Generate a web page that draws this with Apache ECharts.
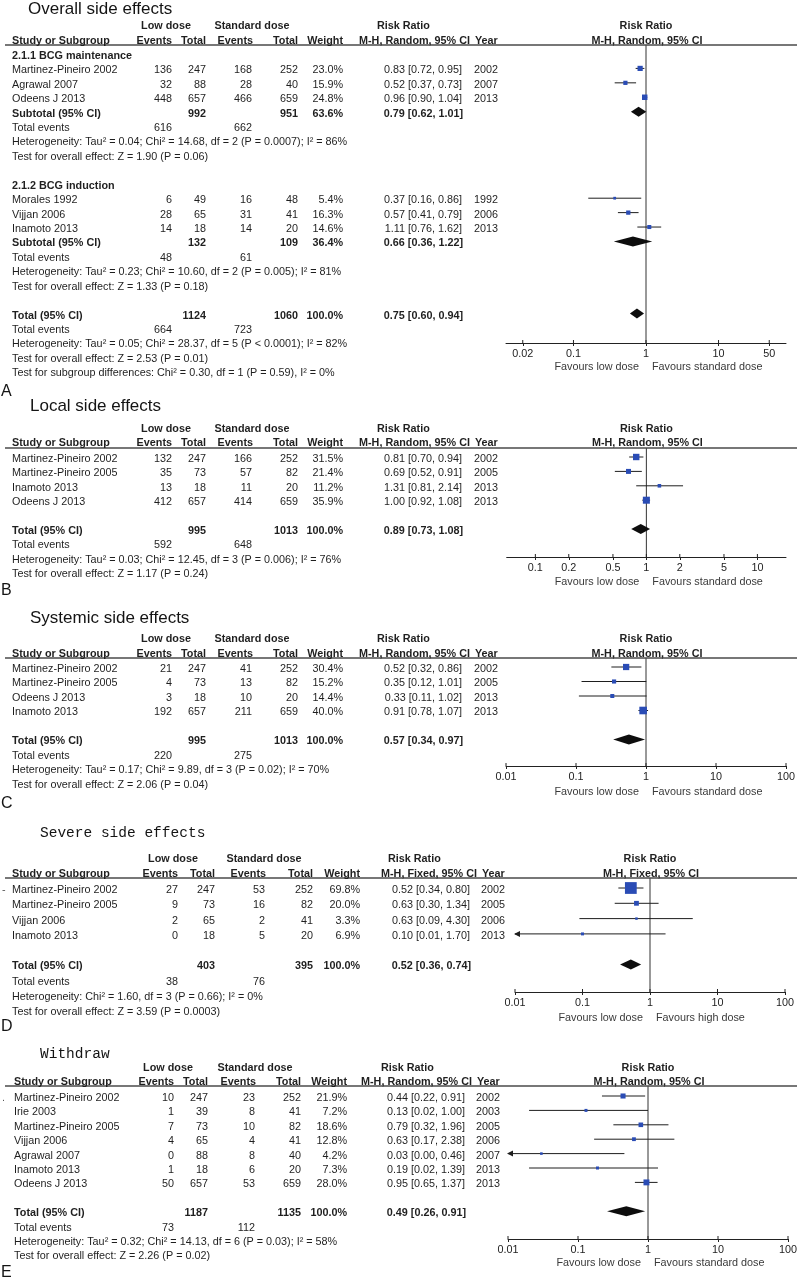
<!DOCTYPE html>
<html><head><meta charset="utf-8">
<script src="https://cdn.jsdelivr.net/npm/echarts@6/dist/echarts.min.js"></script>
<style>html,body{margin:0;padding:0;background:#fff}#c{width:800px;height:1279px}</style>
</head><body><div id="c"></div>
<script>
// ================= DATA =================
// study rows: [name, lowEvents, lowTotal, stdEvents, stdTotal, weight%, RR, lower, upper, year]
// pooled rows: [lowTotal, stdTotal, weight%, RR, lower, upper]
// ---- A: Overall side effects ----
const subgroupNamesA = ['2.1.1 BCG maintenance', '2.1.2 BCG induction'];
const studiesA1 = [
  ['Martinez-Pineiro 2002', 136, 247, 168, 252, 23.0, 0.83, 0.72, 0.95, 2002],
  ['Agrawal 2007', 32, 88, 28, 40, 15.9, 0.52, 0.37, 0.73, 2007],
  ['Odeens J 2013', 448, 657, 466, 659, 24.8, 0.96, 0.90, 1.04, 2013]
];
const pooledA1 = [992, 951, 63.6, 0.79, 0.62, 1.01];
const eventsA1 = [616, 662];
const statsA1 = ['Heterogeneity: Tau² = 0.04; Chi² = 14.68, df = 2 (P = 0.0007); I² = 86%',
                 'Test for overall effect: Z = 1.90 (P = 0.06)'];
const studiesA2 = [
  ['Morales 1992', 6, 49, 16, 48, 5.4, 0.37, 0.16, 0.86, 1992],
  ['Vijjan 2006', 28, 65, 31, 41, 16.3, 0.57, 0.41, 0.79, 2006],
  ['Inamoto 2013', 14, 18, 14, 20, 14.6, 1.11, 0.76, 1.62, 2013]
];
const pooledA2 = [132, 109, 36.4, 0.66, 0.36, 1.22];
const eventsA2 = [48, 61];
const statsA2 = ['Heterogeneity: Tau² = 0.23; Chi² = 10.60, df = 2 (P = 0.005); I² = 81%',
                 'Test for overall effect: Z = 1.33 (P = 0.18)'];
const pooledA = [1124, 1060, 100.0, 0.75, 0.60, 0.94];
const eventsA = [664, 723];
const statsA = ['Heterogeneity: Tau² = 0.05; Chi² = 28.37, df = 5 (P < 0.0001); I² = 82%',
                'Test for overall effect: Z = 2.53 (P = 0.01)',
                'Test for subgroup differences: Chi² = 0.30, df = 1 (P = 0.59), I² = 0%'];
const ticksA = [0.02, 0.1, 1, 10, 50];

// ---- B: Local side effects ----
const studiesB = [
  ['Martinez-Pineiro 2002', 132, 247, 166, 252, 31.5, 0.81, 0.70, 0.94, 2002],
  ['Martinez-Pineiro 2005', 35, 73, 57, 82, 21.4, 0.69, 0.52, 0.91, 2005],
  ['Inamoto 2013', 13, 18, 11, 20, 11.2, 1.31, 0.81, 2.14, 2013],
  ['Odeens J 2013', 412, 657, 414, 659, 35.9, 1.00, 0.92, 1.08, 2013]
];
const pooledB = [995, 1013, 100.0, 0.89, 0.73, 1.08];
const eventsB = [592, 648];
const statsB = ['Heterogeneity: Tau² = 0.03; Chi² = 12.45, df = 3 (P = 0.006); I² = 76%',
                'Test for overall effect: Z = 1.17 (P = 0.24)'];
const ticksB = [0.1, 0.2, 0.5, 1, 2, 5, 10];

// ---- C: Systemic side effects ----
const studiesC = [
  ['Martinez-Pineiro 2002', 21, 247, 41, 252, 30.4, 0.52, 0.32, 0.86, 2002],
  ['Martinez-Pineiro 2005', 4, 73, 13, 82, 15.2, 0.35, 0.12, 1.01, 2005],
  ['Odeens J 2013', 3, 18, 10, 20, 14.4, 0.33, 0.11, 1.02, 2013],
  ['Inamoto 2013', 192, 657, 211, 659, 40.0, 0.91, 0.78, 1.07, 2013]
];
const pooledC = [995, 1013, 100.0, 0.57, 0.34, 0.97];
const eventsC = [220, 275];
const statsC = ['Heterogeneity: Tau² = 0.17; Chi² = 9.89, df = 3 (P = 0.02); I² = 70%',
                'Test for overall effect: Z = 2.06 (P = 0.04)'];
const ticksC = [0.01, 0.1, 1, 10, 100];

// ---- D: Severe side effects ----
const studiesD = [
  ['Martinez-Pineiro 2002', 27, 247, 53, 252, 69.8, 0.52, 0.34, 0.80, 2002],
  ['Martinez-Pineiro 2005', 9, 73, 16, 82, 20.0, 0.63, 0.30, 1.34, 2005],
  ['Vijjan 2006', 2, 65, 2, 41, 3.3, 0.63, 0.09, 4.30, 2006],
  ['Inamoto 2013', 0, 18, 5, 20, 6.9, 0.10, 0.01, 1.70, 2013]
];
const pooledD = [403, 395, 100.0, 0.52, 0.36, 0.74];
const eventsD = [38, 76];
const statsD = ['Heterogeneity: Chi² = 1.60, df = 3 (P = 0.66); I² = 0%',
                'Test for overall effect: Z = 3.59 (P = 0.0003)'];
const ticksD = [0.01, 0.1, 1, 10, 100];

// ---- E: Withdraw ----
const studiesE = [
  ['Martinez-Pineiro 2002', 10, 247, 23, 252, 21.9, 0.44, 0.22, 0.91, 2002],
  ['Irie 2003', 1, 39, 8, 41, 7.2, 0.13, 0.02, 1.00, 2003],
  ['Martinez-Pineiro 2005', 7, 73, 10, 82, 18.6, 0.79, 0.32, 1.96, 2005],
  ['Vijjan 2006', 4, 65, 4, 41, 12.8, 0.63, 0.17, 2.38, 2006],
  ['Agrawal 2007', 0, 88, 8, 40, 4.2, 0.03, 0.00, 0.46, 2007],
  ['Inamoto 2013', 1, 18, 6, 20, 7.3, 0.19, 0.02, 1.39, 2013],
  ['Odeens J 2013', 50, 657, 53, 659, 28.0, 0.95, 0.65, 1.37, 2013]
];
const pooledE = [1187, 1135, 100.0, 0.49, 0.26, 0.91];
const eventsE = [73, 112];
const statsE = ['Heterogeneity: Tau² = 0.32; Chi² = 14.13, df = 6 (P = 0.03); I² = 58%',
                'Test for overall effect: Z = 2.26 (P = 0.02)'];
const ticksE = [0.01, 0.1, 1, 10, 100];

// ================= LAYOUT =================
const FONT = '"Liberation Sans", Arial, sans-serif';
const MONO = '"Liberation Mono", "DejaVu Sans Mono", monospace';
const FS = 10.8;
const TXT = '#1f1f1f';
const colsStd = {study:12, ev1:172, tot1:206, ev2:252, tot2:298, w:343, rr:462, year:474, low:166, std:252, rrHdr:377, mhR:470};

const panels = [
  { title:'Overall side effects', titleFont:'17px ' + FONT, titleX:28, titleY:9, letter:'A', letterY:392,
    hdr1Y:26, hdr2Y:41, lineY:45, y0:56, sp:14.42, axisY:343, axL:506, axR:786, xmin:0.01175, xmax:85.1, favY:367,
    cols: colsStd, method:'M-H, Random, 95% CI', favL:'Favours low dose', favR:'Favours standard dose', ticks: ticksA,
    subgroups:[
      {name:subgroupNamesA[0], studies:studiesA1, pooled:pooledA1, events:eventsA1, stats:statsA1},
      {name:subgroupNamesA[1], studies:studiesA2, pooled:pooledA2, events:eventsA2, stats:statsA2}],
    total:{pooled:pooledA, events:eventsA, stats:statsA} },
  { title:'Local side effects', titleFont:'17px ' + FONT, titleX:30, titleY:406, letter:'B', letterY:591,
    hdr1Y:429, hdr2Y:443, lineY:448, y0:459, sp:14.4, axisY:557, axL:506.7, axR:786, xmin:0.0552, xmax:18.1, favY:582,
    cols: colsStd, method:'M-H, Random, 95% CI', favL:'Favours low dose', favR:'Favours standard dose', ticks: ticksB,
    studies: studiesB, total:{pooled:pooledB, events:eventsB, stats:statsB} },
  { title:'Systemic side effects', titleFont:'17px ' + FONT, titleX:30, titleY:618, letter:'C', letterY:804,
    hdr1Y:639, hdr2Y:654, lineY:658, y0:669, sp:14.5, axisY:766, axL:506, axR:786, xmin:0.01, xmax:100, favY:792,
    cols: colsStd, method:'M-H, Random, 95% CI', favL:'Favours low dose', favR:'Favours standard dose', ticks: ticksC,
    studies: studiesC, total:{pooled:pooledC, events:eventsC, stats:statsC} },
  { title:'Severe side effects', titleFont:'14.5px ' + MONO, titleX:40, titleY:833, letter:'D', letterY:1027,
    hdr1Y:859, hdr2Y:874, lineY:878, y0:890, sp:15.3, axisY:992, axL:515, axR:785, xmin:0.01, xmax:100, favY:1018,
    cols:{study:12, ev1:178, tot1:215, ev2:265, tot2:313, w:360, rr:470, year:481, low:173, std:264, rrHdr:388, mhR:477},
    method:'M-H, Fixed, 95% CI', favL:'Favours low dose', favR:'Favours high dose', ticks: ticksD, mark:'-',
    studies: studiesD, total:{pooled:pooledD, events:eventsD, stats:statsD} },
  { title:'Withdraw', titleFont:'14.5px ' + MONO, titleX:40, titleY:1054, letter:'E', letterY:1273,
    hdr1Y:1068, hdr2Y:1082, lineY:1086, y0:1098, sp:14.4, axisY:1239, axL:508, axR:788, xmin:0.01, xmax:100, favY:1263,
    cols:{study:14, ev1:174, tot1:208, ev2:255, tot2:301, w:347, rr:465, year:476, low:168, std:255, rrHdr:381, mhR:472},
    method:'M-H, Random, 95% CI', favL:'Favours low dose', favR:'Favours standard dose', ticks: ticksE, mark:'.',
    studies: studiesE, total:{pooled:pooledE, events:eventsE, stats:statsE} }
];

// ================= BUILD =================
function buildRows(P) {
  const rows = []; let k = 0;
  if (P.subgroups) {
    P.subgroups.forEach(sg => {
      rows.push({k:k++, type:'head', text:sg.name});
      sg.studies.forEach(s => rows.push({k:k++, type:'study', s:s}));
      rows.push({k:k++, type:'pooled', label:'Subtotal (95% CI)', p:sg.pooled});
      rows.push({k:k++, type:'events', e:sg.events});
      sg.stats.forEach(t => rows.push({k:k++, type:'stat', text:t}));
      k++;
    });
  } else {
    P.studies.forEach(s => rows.push({k:k++, type:'study', s:s}));
    k++;
  }
  rows.push({k:k++, type:'pooled', label:'Total (95% CI)', p:P.total.pooled});
  rows.push({k:k++, type:'events', e:P.total.events});
  P.total.stats.forEach(t => rows.push({k:k++, type:'stat', text:t}));
  return rows;
}
const OFF = 2; // marks sit slightly above text centre line
function studyRender(P) {
  return function (params, api) {
    const est = api.value(0), lo = api.value(1), hi = api.value(2), row = api.value(3), w = api.value(4);
    const y = api.coord([1, row])[1];
    const loC = Math.max(lo, P.xmin), hiC = Math.min(hi, P.xmax);
    const xl = api.coord([loC, row])[0], xh = api.coord([hiC, row])[0], xe = api.coord([est, row])[0];
    const ch = [{type:'line', shape:{x1:xl, y1:y, x2:xh, y2:y}, style:{stroke:'#1e1e1e', lineWidth:1}}];
    if (lo <= P.xmin) ch.push({type:'polygon', shape:{points:[[xl - 1, y], [xl + 5, y - 3], [xl + 5, y + 3]]}, style:{fill:'#1e1e1e'}});
    if (hi >= P.xmax) ch.push({type:'polygon', shape:{points:[[xh + 1, y], [xh - 5, y - 3], [xh - 5, y + 3]]}, style:{fill:'#1e1e1e'}});
    const s = 2 + 0.14 * w;
    ch.push({type:'rect', shape:{x:xe - s / 2, y:y - s / 2, width:s, height:s}, style:{fill:'#2a4cb5'}});
    return {type:'group', children:ch};
  };
}
function diamondRender(params, api) {
  const est = api.value(0), lo = api.value(1), hi = api.value(2), row = api.value(3);
  const y = api.coord([1, row])[1];
  const xl = api.coord([lo, row])[0], xh = api.coord([hi, row])[0], xe = api.coord([est, row])[0];
  return {type:'polygon', shape:{points:[[xl, y], [xe, y - 5], [xh, y], [xe, y + 5]]}, style:{fill:'#0d0d0d'}};
}
// upper half of the crossing tick marks (the lower half is the axis' own tick)
function tickUpRender(P) {
  return function (params, api) {
    const p = api.coord([api.value(0), P.yMax]);
    return {type:'line', shape:{x1:p[0], y1:p[1] - 3, x2:p[0], y2:p[1]}, style:{stroke:'#222', lineWidth:1}};
  };
}
function fmtVal(v) { return String(parseFloat(Number(v).toPrecision(6))); }

const grids = [], xAxes = [], yAxes = [], series = [];
const panelRows = [];
panels.forEach((P, i) => {
  const rows = buildRows(P); panelRows.push(rows);
  const base = P.y0 - OFF;
  const yMin = (P.lineY - base) / P.sp, yMax = (P.axisY - base) / P.sp;
  P.yMin = yMin; P.yMax = yMax;
  grids.push({left:P.axL, top:P.lineY, width:P.axR - P.axL, height:P.axisY - P.lineY, containLabel:false, outerBoundsMode:'none'});
  xAxes.push({type:'log', logBase:10, gridIndex:i, min:P.xmin, max:P.xmax,
    axisLine:{show:true, onZero:false, lineStyle:{color:'#222', width:1}},
    axisTick:{show:true, length:3, customValues:P.ticks, lineStyle:{color:'#222', width:1}},
    axisLabel:{customValues:P.ticks, margin:6, color:'#222', fontSize:FS, fontFamily:FONT, formatter:fmtVal},
    splitLine:{show:false}, minorTick:{show:false}});
  yAxes.push({type:'value', gridIndex:i, inverse:true, min:yMin, max:yMax, show:false, splitLine:{show:false}});
  series.push({type:'line', xAxisIndex:i, yAxisIndex:i, data:[[1, yMin], [1, yMax]], symbol:'none', silent:true,
    lineStyle:{color:'#333', width:1}, z:1, animation:false});
  series.push({type:'custom', xAxisIndex:i, yAxisIndex:i, data:P.ticks.map(v => [v]), encode:{x:0}, renderItem:tickUpRender(P), z:2, silent:true, animation:false});
  const sData = rows.filter(r => r.type === 'study').map(r => [r.s[6], r.s[7], r.s[8], r.k, r.s[5]]);
  series.push({type:'custom', xAxisIndex:i, yAxisIndex:i, data:sData, encode:{x:0, y:3}, renderItem:studyRender(P), z:3, silent:true, animation:false});
  const pData = rows.filter(r => r.type === 'pooled').map(r => [r.p[3], r.p[4], r.p[5], r.k]);
  series.push({type:'custom', xAxisIndex:i, yAxisIndex:i, data:pData, encode:{x:0, y:3}, renderItem:diamondRender, z:3, silent:true, animation:false});
});

const chart = echarts.init(document.getElementById('c'), null, {renderer:'canvas'});
chart.setOption({backgroundColor:'#ffffff', animation:false, grid:grids, xAxis:xAxes, yAxis:yAxes, series:series});

// ================= TEXT (table) =================
function T(x, y, text, o) {
  o = o || {};
  return {type:'text', x:x, y:y, silent:true, z:10,
    style:{text:String(text), font:o.font || ((o.bold ? 'bold ' : '') + (o.size || FS) + 'px ' + FONT),
      fill:o.color || TXT, textAlign:o.align || 'left', textVerticalAlign:'middle'}};
}
const g = [];
const rrStr = (a, b, c) => a.toFixed(2) + ' [' + b.toFixed(2) + ', ' + c.toFixed(2) + ']';
panels.forEach((P, i) => {
  const C = P.cols;
  const nullX = chart.convertToPixel({gridIndex:i}, [1, 0])[0];
  const rowY = k => chart.convertToPixel({gridIndex:i}, [1, k])[1] + OFF;
  g.push(T(P.titleX, P.titleY, P.title, {font:P.titleFont, color:'#141414'}));
  g.push(T(1, P.letterY, P.letter, {size:16, color:'#141414'}));
  g.push(T(C.low, P.hdr1Y, 'Low dose', {bold:true, align:'center'}));
  g.push(T(C.std, P.hdr1Y, 'Standard dose', {bold:true, align:'center'}));
  g.push(T(C.rrHdr, P.hdr1Y, 'Risk Ratio', {bold:true}));
  g.push(T(nullX, P.hdr1Y, 'Risk Ratio', {bold:true, align:'center'}));
  g.push(T(C.study, P.hdr2Y, 'Study or Subgroup', {bold:true}));
  g.push(T(C.ev1, P.hdr2Y, 'Events', {bold:true, align:'right'}));
  g.push(T(C.tot1, P.hdr2Y, 'Total', {bold:true, align:'right'}));
  g.push(T(C.ev2 + 1, P.hdr2Y, 'Events', {bold:true, align:'right'}));
  g.push(T(C.tot2, P.hdr2Y, 'Total', {bold:true, align:'right'}));
  g.push(T(C.w, P.hdr2Y, 'Weight', {bold:true, align:'right'}));
  g.push(T(C.mhR, P.hdr2Y, P.method, {bold:true, align:'right'}));
  g.push(T(C.year + 1, P.hdr2Y, 'Year', {bold:true}));
  g.push(T(nullX + 1, P.hdr2Y, P.method, {bold:true, align:'center'}));
  g.push({type:'line', silent:true, z:9, shape:{x1:5, y1:P.lineY, x2:797, y2:P.lineY}, style:{stroke:'#4a4a4a', lineWidth:1.3}});
  g.push(T(nullX - 7, P.favY, P.favL, {align:'right', color:'#3a3a3a'}));
  g.push(T(nullX + 6, P.favY, P.favR, {color:'#3a3a3a'}));
  if (P.mark) g.push(T(2, rowY(0), P.mark, {color:'#555'}));
  panelRows[i].forEach(r => {
    const y = rowY(r.k);
    if (r.type === 'head') g.push(T(C.study, y, r.text, {bold:true}));
    else if (r.type === 'study') {
      const s = r.s;
      g.push(T(C.study, y, s[0]));
      g.push(T(C.ev1, y, s[1], {align:'right'}));
      g.push(T(C.tot1, y, s[2], {align:'right'}));
      g.push(T(C.ev2, y, s[3], {align:'right'}));
      g.push(T(C.tot2, y, s[4], {align:'right'}));
      g.push(T(C.w, y, s[5].toFixed(1) + '%', {align:'right'}));
      g.push(T(C.rr, y, rrStr(s[6], s[7], s[8]), {align:'right'}));
      g.push(T(C.year, y, s[9]));
    } else if (r.type === 'pooled') {
      const p = r.p;
      g.push(T(C.study, y, r.label, {bold:true}));
      g.push(T(C.tot1, y, p[0], {bold:true, align:'right'}));
      g.push(T(C.tot2, y, p[1], {bold:true, align:'right'}));
      g.push(T(C.w, y, p[2].toFixed(1) + '%', {bold:true, align:'right'}));
      g.push(T(C.rr + 1, y, rrStr(p[3], p[4], p[5]), {bold:true, align:'right'}));
    } else if (r.type === 'events') {
      g.push(T(C.study, y, 'Total events'));
      g.push(T(C.ev1, y, r.e[0], {align:'right'}));
      g.push(T(C.ev2, y, r.e[1], {align:'right'}));
    } else if (r.type === 'stat') {
      g.push(T(C.study, y, r.text));
    }
  });
});
chart.setOption({graphic:{elements:g}});
</script>
</body></html>
